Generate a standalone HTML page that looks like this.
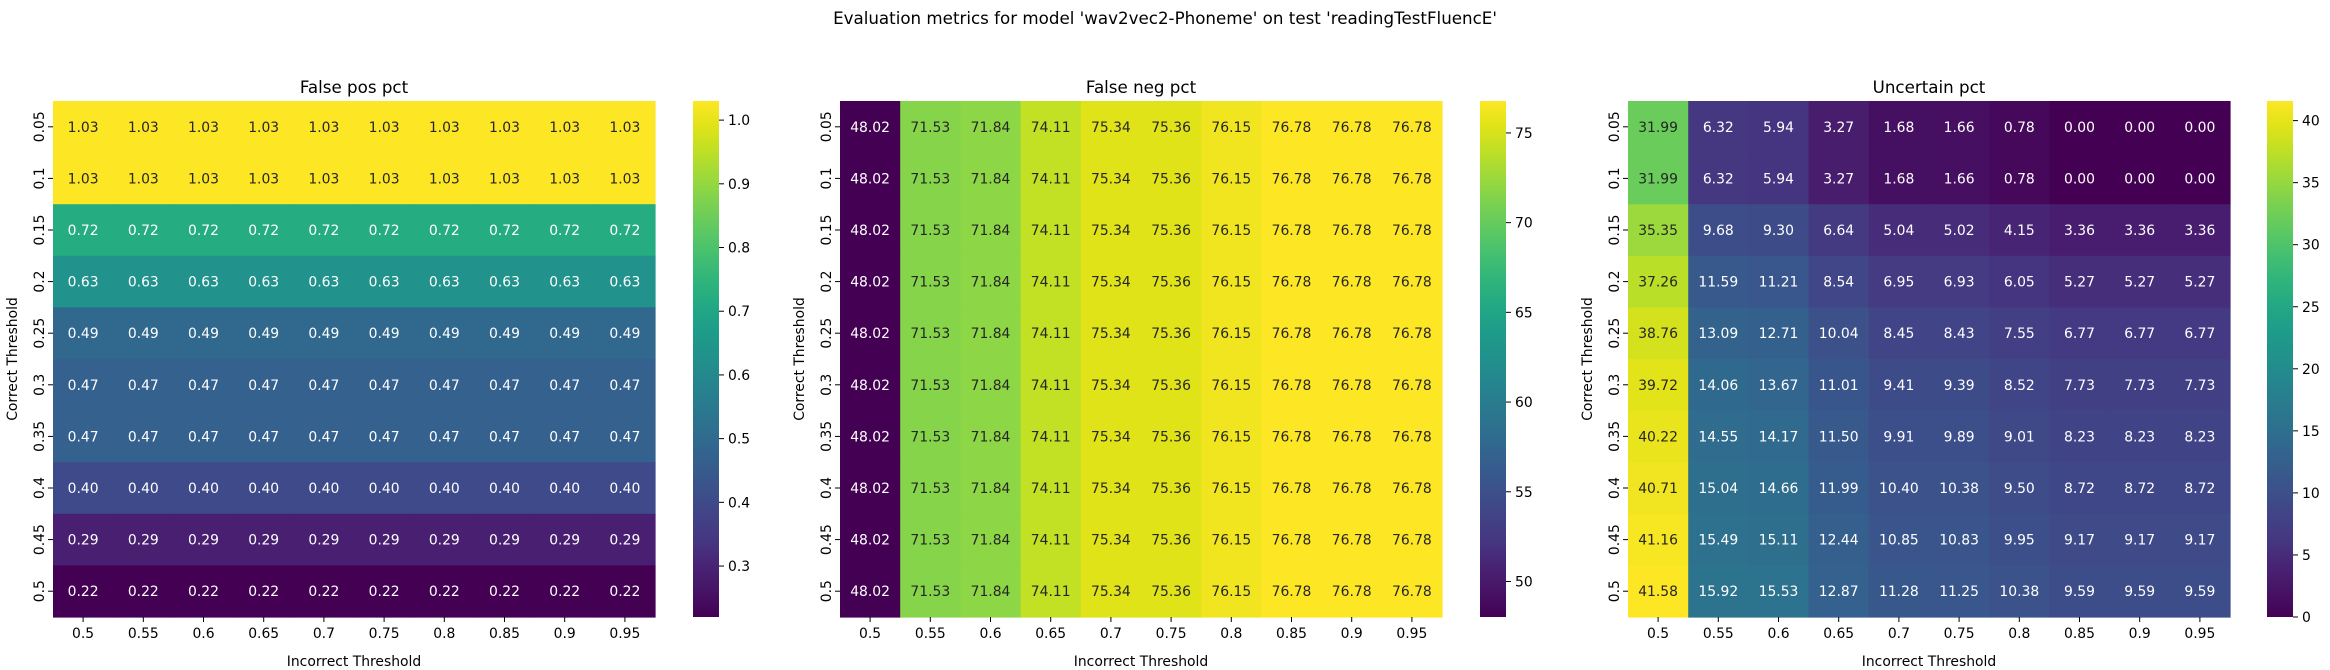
<!DOCTYPE html>
<html><head><meta charset="utf-8">
<style>
html,body{margin:0;padding:0;background:#fff;}
svg{display:block;font-family:"DejaVu Sans","Liberation Sans",sans-serif;}
</style></head>
<body>
<svg id="fig" width="2330" height="670" xmlns="http://www.w3.org/2000/svg">
<text x="1165" y="24" text-anchor="middle" font-size="16.7" fill="#000">Evaluation metrics for model 'wav2vec2-Phoneme' on test 'readingTestFluencE'</text>
</svg>
<script>
const xTicks = ["0.5","0.55","0.6","0.65","0.7","0.75","0.8","0.85","0.9","0.95"];
const yTicks = ["0.05","0.1","0.15","0.2","0.25","0.3","0.35","0.4","0.45","0.5"];
const fpRowValues = [1.03,1.03,0.72,0.63,0.49,0.47,0.47,0.40,0.29,0.22];
const fnColValues = [48.02,71.53,71.84,74.11,75.34,75.36,76.15,76.78,76.78,76.78];
const uncertain = [
[31.99,6.32,5.94,3.27,1.68,1.66,0.78,0.00,0.00,0.00],
[31.99,6.32,5.94,3.27,1.68,1.66,0.78,0.00,0.00,0.00],
[35.35,9.68,9.30,6.64,5.04,5.02,4.15,3.36,3.36,3.36],
[37.26,11.59,11.21,8.54,6.95,6.93,6.05,5.27,5.27,5.27],
[38.76,13.09,12.71,10.04,8.45,8.43,7.55,6.77,6.77,6.77],
[39.72,14.06,13.67,11.01,9.41,9.39,8.52,7.73,7.73,7.73],
[40.22,14.55,14.17,11.50,9.91,9.89,9.01,8.23,8.23,8.23],
[40.71,15.04,14.66,11.99,10.40,10.38,9.50,8.72,8.72,8.72],
[41.16,15.49,15.11,12.44,10.85,10.83,9.95,9.17,9.17,9.17],
[41.58,15.92,15.53,12.87,11.28,11.25,10.38,9.59,9.59,9.59]];
const fpTicks = [0.3,0.4,0.5,0.6,0.7,0.8,0.9,1.0];
const fnTicks = [50,55,60,65,70,75];
const unTicks = [0,5,10,15,20,25,30,35,40];
const titles = ["False pos pct","False neg pct","Uncertain pct"];

const falsePos = fpRowValues.map(v => xTicks.map(() => v));
const falseNeg = yTicks.map(() => fnColValues.slice());

const VIR = ["#440154","#471365","#482475","#453781","#414487","#3b528b","#355f8d","#2f6c8e","#2a788e","#25848e","#21918c","#1e9b8a","#22a884","#2fb47c","#44bf70","#5ec962","#7ad151","#9bd93c","#bddf26","#dfe318","#fde725"];
function hex2rgb(h){return [parseInt(h.substr(1,2),16),parseInt(h.substr(3,2),16),parseInt(h.substr(5,2),16)];}
function viridis(t){
  t=Math.max(0,Math.min(1,t));
  const p=t*(VIR.length-1), i=Math.min(Math.floor(p),VIR.length-2), f=p-i;
  const a=hex2rgb(VIR[i]), b=hex2rgb(VIR[i+1]);
  return a.map((c,k)=>Math.round(c+(b[k]-c)*f));
}
function lum(rgb){
  const c=rgb.map(v=>{v/=255;return v<=0.03928?v/12.92:Math.pow((v+0.055)/1.055,2.4);});
  return 0.2126*c[0]+0.7152*c[1]+0.0722*c[2];
}
const NS="http://www.w3.org/2000/svg";
const svg=document.getElementById('fig');
function mk(tag,attrs,parent,text){
  const e=document.createElementNS(NS,tag);
  for(const k in attrs) e.setAttribute(k,attrs[k]);
  if(text!==undefined) e.textContent=text;
  (parent||svg).appendChild(e);return e;
}
const TOP=101, BOT=617, W=602;
const panels=[{left:53,cb:693,data:falsePos,ticks:fpTicks,fmt:v=>v.toFixed(1),name:"false-pos"},
              {left:840,cb:1480,data:falseNeg,ticks:fnTicks,fmt:v=>String(v),name:"false-neg"},
              {left:1628,cb:2267,data:uncertain,ticks:unTicks,fmt:v=>String(v),name:"uncertain"}];
panels.forEach((P,pi)=>{
  const g=mk('g',{});
  
  
  const flat=P.data.flat(), vmin=Math.min(...flat), vmax=Math.max(...flat);
  const nR=P.data.length, nC=P.data[0].length;
  const cw=W/nC, ch=(BOT-TOP)/nR;
  const xS=j=>P.left+j*cw, yS=i=>TOP+i*ch;
  const title=mk('text',{x:P.left+W/2,y:TOP-8,'text-anchor':'middle','font-size':16.7,fill:'#000'},g,titles[pi]);
  
  
  P.data.forEach((row,i)=>row.forEach((v,j)=>{
    const rgb=viridis((v-vmin)/(vmax-vmin));
    const r=mk('rect',{x:xS(j),y:yS(i),width:cw+0.6,height:ch+0.6,fill:`rgb(${rgb.join(',')})`},g);
    
    
    const t=mk('text',{x:xS(j)+cw/2,y:yS(i)+ch/2+5,'text-anchor':'middle','font-size':13.9,fill:lum(rgb)>0.408?'#262626':'#ffffff'},g,v.toFixed(2));
    
    
  }));
  xTicks.forEach((lab,j)=>{
    const x=xS(j)+cw/2;
    mk('line',{x1:x,x2:x,y1:BOT,y2:BOT+5,stroke:'#000','stroke-width':1},g);
    const t=mk('text',{x:x,y:BOT+21,'text-anchor':'middle','font-size':13.9,fill:'#000'},g,lab);
    
    
  });
  yTicks.forEach((lab,i)=>{
    const y=yS(i)+ch/2;
    mk('line',{x1:P.left-5,x2:P.left,y1:y,y2:y,stroke:'#000','stroke-width':1},g);
    const t=mk('text',{x:P.left-9,y:y,'text-anchor':'middle','font-size':13.9,fill:'#000',transform:`rotate(-90 ${P.left-9} ${y})`},g,lab);
    
    
  });
  const xl=mk('text',{x:P.left+W/2,y:BOT+49,'text-anchor':'middle','font-size':13.9,fill:'#000'},g,'Incorrect Threshold');
  
  
  const yx=P.left-36, ym=(TOP+BOT)/2;
  const yl=mk('text',{x:yx,y:ym,'text-anchor':'middle','font-size':13.9,fill:'#000',transform:`rotate(-90 ${yx} ${ym})`},g,'Correct Threshold');
  
  
  // colorbar
  const gid='grad'+pi;
  const defs=mk('defs',{},g);
  const lg=mk('linearGradient',{id:gid,x1:0,y1:1,x2:0,y2:0},defs);
  VIR.forEach((c,k)=>mk('stop',{offset:k/(VIR.length-1),'stop-color':c},lg));
  const cb=mk('rect',{x:P.cb,y:TOP,width:26,height:BOT-TOP,fill:`url(#${gid})`},g);
  
  
  const cS=v=>BOT-(v-vmin)/(vmax-vmin)*(BOT-TOP);
  P.ticks.forEach(v=>{
    const y=cS(v);
    mk('line',{x1:P.cb+26,x2:P.cb+31,y1:y,y2:y,stroke:'#000','stroke-width':1},g);
    const t=mk('text',{x:P.cb+35,y:y+5,'font-size':13.9,fill:'#000'},g,P.fmt(v));
    
    
  });
});
</script>
</body></html>
